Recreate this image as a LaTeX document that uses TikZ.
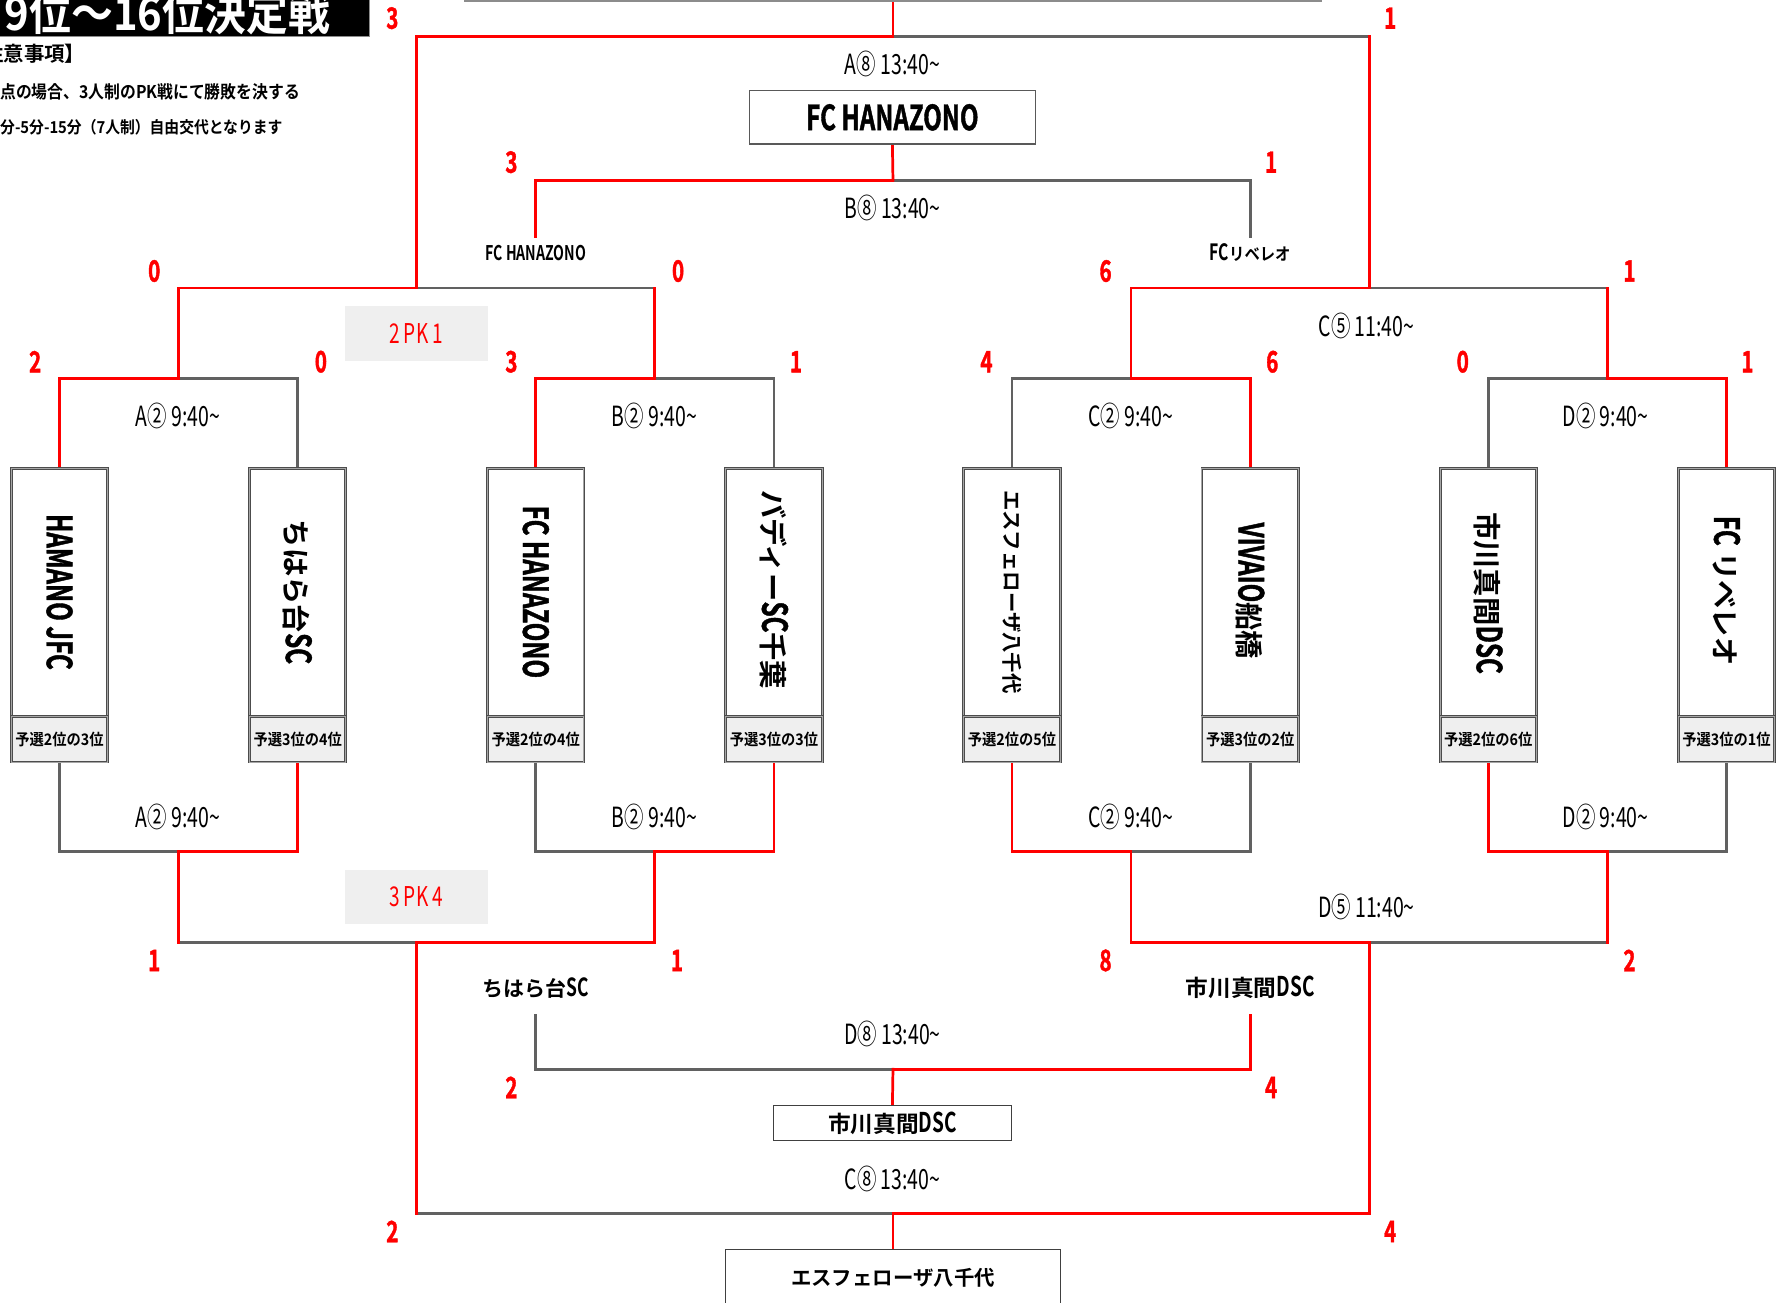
\documentclass[tikz,border=0pt]{standalone}
\usepackage{fontspec}
\usetikzlibrary{backgrounds}
\newfontfamily\jp{Noto Sans CJK JP}[BoldFont={Noto Sans CJK JP Bold}]
\newfontfamily\jpc{Noto Sans CJK JP}[BoldFont={Noto Sans CJK JP Bold},FakeStretch=0.9]
\newfontfamily\cn{Noto Sans CJK JP}[BoldFont={Noto Sans CJK JP Bold},FakeStretch=0.7]
\newfontfamily\cnh{Noto Sans CJK JP}[BoldFont={Noto Sans CJK JP Bold},FakeStretch=0.7,FakeBold=1.2]
\definecolor{pkgray}{HTML}{EFEFEF}
\newcommand\lt[1]{{\cnh\bfseries\fontsize{30.5}{30.5}\selectfont #1}}
\newcommand\lts[2]{{\cn\bfseries\fontsize{#1}{#1}\selectfont #2}}
\newcommand\tld{\textasciitilde}
\begin{document}
\begin{tikzpicture}[x=1pt,y=-1pt,
  win/.style={draw=red, line width=2.4pt, line cap=rect},
  lose/.style={draw=black!62, line width=2.4pt, line cap=rect},
  teambox/.style={draw=black!70, line width=0.8pt, double=black!35, double distance=0.9pt, fill=white, minimum width=85pt, minimum height=259pt, inner sep=0pt},
  rankbox/.style={draw=black!70, line width=0.8pt, double=black!35, double distance=0.9pt, fill=pkgray, minimum width=85pt, minimum height=40pt, inner sep=0pt, font=\jpc\bfseries\fontsize{14}{14}\selectfont},
  teamname/.style={rotate=-90, inner sep=0pt, font=\jp\bfseries\fontsize{25}{25}\selectfont},
  mlbl/.style={inner sep=0pt, font=\cn\fontsize{24.5}{24.5}\selectfont},
  score/.style={inner sep=0pt, text=red, font=\cnh\bfseries\fontsize{26}{26}\selectfont},
  pkbox/.style={fill=pkgray, minimum width=126pt, minimum height=48pt, inner sep=0pt, text=red, font=\cn\fontsize{24}{24}\selectfont},
  reslbl/.style={inner xsep=0pt, font=\jp\bfseries\fontsize{19}{19}\selectfont},
  placebox/.style={draw=black!75, line width=1.2pt, fill=white, inner sep=0pt},
  note/.style={inner sep=0pt, anchor=west}
]
\useasboundingbox (0,0) rectangle (1568,1149);

% ---------- title and notes ----------
\path[fill=black, draw=black!45, line width=1pt] (-5,-5) rectangle (326,32);
\node[anchor=base west, inner sep=0pt, text=white, font=\jpc\bfseries\fontsize{41}{41}\selectfont] (title) at (4,27) {9位～16位決定戦};
\node[note, font=\jp\bfseries\fontsize{18}{18}\selectfont] (notehead) at (-33,47) {【注意事項】};
\node[note, font=\jpc\bfseries\fontsize{15.5}{15.5}\selectfont] (note1) at (0,81) {点の場合、3人制のPK戦にて勝敗を決する};
\node[note, font=\jpc\bfseries\fontsize{14.5}{14.5}\selectfont] (note2) at (0,112) {分-5分-15分（7人制）自由交代となります};

% ---------- team boxes ----------
\node[teambox] (t1) at (52.5,542.5) {};
\node[teambox] (t2) at (262.5,542.5) {};
\node[teambox] (t3) at (472.5,542.5) {};
\node[teambox] (t4) at (682.5,542.5) {};
\node[teambox] (t5) at (892.5,542.5) {};
\node[teambox] (t6) at (1102.5,542.5) {};
\node[teambox] (t7) at (1312.5,542.5) {};
\node[teambox] (t8) at (1522.5,542.5) {};
\node[rankbox] (r1) at (52.5,652) {予選2位の3位};
\node[rankbox] (r2) at (262.5,652) {予選3位の4位};
\node[rankbox] (r3) at (472.5,652) {予選2位の4位};
\node[rankbox] (r4) at (682.5,652) {予選3位の3位};
\node[rankbox] (r5) at (892.5,652) {予選2位の5位};
\node[rankbox] (r6) at (1102.5,652) {予選3位の2位};
\node[rankbox] (r7) at (1312.5,652) {予選2位の6位};
\node[rankbox] (r8) at (1522.5,652) {予選3位の1位};
\node[teamname] (n1) at (52.5,522) {\lt{HAMANO JFC}};
\node[teamname] (n2) at (262.5,522) {ちはら台\lt{SC}};
\node[teamname] (n3) at (472.5,522) {\lt{FC HANAZONO}};
\node[teamname] (n4) at (682.5,520) {バディー\lt{SC}千葉};
\node[teamname, font=\jp\bfseries\fontsize{18}{18}\selectfont] (n5) at (892.5,522) {エスフェローザ八千代};
\node[teamname] (n6) at (1102.5,521) {\lt{VIVAIO}船橋};
\node[teamname] (n7) at (1312.5,523) {市川真間\lt{DSC}};
\node[teamname] (n8) at (1522.5,521) {\lt{FC} リベレオ};

% ---------- placement boxes and result labels ----------
\node[draw=black!45, line width=1.5pt, minimum width=755pt, minimum height=50pt] (top9) at (787.5,-24) {};
\node[placebox, draw=black!65, minimum width=252pt, minimum height=47pt] (p11) at (787,103.5) {\lt{FC HANAZONO}};
\node[placebox, minimum width=210pt, minimum height=31pt, font=\jp\bfseries\fontsize{20}{20}\selectfont] (p15) at (787,990.5) {市川真間\lts{24}{DSC}};
\node[placebox, minimum width=295pt, minimum height=50pt, font=\jp\bfseries\fontsize{18}{18}\selectfont] (p13) at (787.5,1127) {エスフェローザ八千代};

\node[reslbl, text height=14pt, text depth=0pt, inner ysep=7pt] (nA) at (472.5,223) {\lts{17.8}{FC HANAZONO}};
\node[reslbl, text height=14pt, text depth=0pt, inner ysep=7pt] (nB) at (1102.5,223) {\lts{19.8}{FC}{\jpc\bfseries\fontsize{15}{15}\selectfont リベレオ}};
\node[reslbl, text height=16pt, text depth=1pt, inner ysep=16pt, font=\jp\bfseries\fontsize{18.5}{18.5}\selectfont] (nC) at (472.5,871) {ちはら台\lts{22}{SC}};
\node[reslbl, text height=16pt, text depth=1pt, inner ysep=16pt, font=\jp\bfseries\fontsize{20}{20}\selectfont] (nD) at (1102.5,871) {市川真間\lts{24}{DSC}};

% ---------- PK boxes ----------
\node[pkbox] (pk1) at (367,294) {2 PK 1};
\node[pkbox] (pk2) at (367,791) {3 PK 4};

% ---------- match labels ----------
\node[mlbl] (mA8) at (787,56) {A⑧ 13:40\tld};
\node[mlbl] (mB8) at (787,183) {B⑧ 13:40\tld};
\node[mlbl] (mC5) at (1205,287) {C⑤ 11:40\tld};
\node[mlbl] (mA2t) at (157,367) {A② 9:40\tld};
\node[mlbl] (mB2t) at (577,367) {B② 9:40\tld};
\node[mlbl] (mC2t) at (997,367) {C② 9:40\tld};
\node[mlbl] (mD2t) at (1416,367) {D② 9:40\tld};
\node[mlbl] (mA2b) at (157,720) {A② 9:40\tld};
\node[mlbl] (mB2b) at (577,720) {B② 9:40\tld};
\node[mlbl] (mC2b) at (997,720) {C② 9:40\tld};
\node[mlbl] (mD2b) at (1416,720) {D② 9:40\tld};
\node[mlbl] (mD5) at (1205,800) {D⑤ 11:40\tld};
\node[mlbl] (mD8) at (787,912) {D⑧ 13:40\tld};
\node[mlbl] (mC8) at (787,1040) {C⑧ 13:40\tld};

% ---------- scores ----------
\node[score] (s1) at (346,16) {3};
\node[score] (s2) at (1226,16) {1};
\node[score] (s3) at (451,143) {3};
\node[score] (s4) at (1121,143) {1};
\node[score] (s5) at (136,239) {0};
\node[score] (s6) at (598,239) {0};
\node[score] (s7) at (975,239) {6};
\node[score] (s8) at (1437,239) {1};
\node[score] (s9) at (31,319) {2};
\node[score] (s10) at (283,319) {0};
\node[score] (s11) at (451,319) {3};
\node[score] (s12) at (702,319) {1};
\node[score] (s13) at (870,319) {4};
\node[score] (s14) at (1122,319) {6};
\node[score] (s15) at (1290,319) {0};
\node[score] (s16) at (1541,319) {1};
\node[score] (s17) at (136,847) {1};
\node[score] (s18) at (597,847) {1};
\node[score] (s19) at (975,847) {8};
\node[score] (s20) at (1437,847) {2};
\node[score] (s21) at (451,959) {2};
\node[score] (s22) at (1121,959) {4};
\node[score] (s23) at (346,1086) {2};
\node[score] (s24) at (1226,1086) {4};

% ---------- junctions ----------
\coordinate (A1t) at (157.5,334);
\coordinate (B1t) at (577.5,334);
\coordinate (C1t) at (997.5,334);
\coordinate (D1t) at (1417.5,334);
\coordinate (A5) at (367.5,254);
\coordinate (C5) at (1207.5,254);
\coordinate (A8) at (787.5,32);
\coordinate (B8) at (787.5,159);
\coordinate (A1b) at (157.5,751);
\coordinate (B1b) at (577.5,751);
\coordinate (C1b) at (997.5,751);
\coordinate (D1b) at (1417.5,751);
\coordinate (B5) at (367.5,831);
\coordinate (D5) at (1207.5,831);
\coordinate (D8) at (787.5,943);
\coordinate (C8) at (787.5,1070);

\begin{scope}[on background layer]
% losing paths (gray)
\draw[lose] (A1t) -| (t2.north);
\draw[lose] (B1t) -| (t4.north);
\draw[lose] (t5.north) |- (C1t);
\draw[lose] (t7.north) |- (D1t);
\draw[lose] (A5) -- (A5 -| B1t);
\draw[lose] (C5) -- (C5 -| D1t);
\draw[lose] (A8) -- (A8 -| C5);
\draw[lose] (B8) -| (nB.north);
\draw[lose] (r1.south) |- (A1b);
\draw[lose] (r3.south) |- (B1b);
\draw[lose] (C1b) -| (r6.south);
\draw[lose] (D1b) -| (r8.south);
\draw[lose] (A1b |- B5) -- (B5);
\draw[lose] (D5) -- (D5 -| D1b);
\draw[lose] (B5 |- C8) -- (C8);
\draw[lose] (nC.south) |- (D8);
% winning paths (red)
\draw[win] (t1.north) |- (A1t);
\draw[win] (t3.north) |- (B1t);
\draw[win] (C1t) -| (t6.north);
\draw[win] (D1t) -| (t8.north);
\draw[win] (A1t) |- (A5);
\draw[win] (B1t) -- (A5 -| B1t);
\draw[win] (C1t) |- (C5);
\draw[win] (D1t) -- (C5 -| D1t);
\draw[win] (A5) |- (A8);
\draw[win] (C5) -- (A8 -| C5);
\draw[win] (A8) -- (top9.south);
\draw[win] (nA.north) |- (B8);
\draw[win] (B8) -- (p11.south);
\draw[win] (A1b) -| (r2.south);
\draw[win] (B1b) -| (r4.south);
\draw[win] (r5.south) |- (C1b);
\draw[win] (r7.south) |- (D1b);
\draw[win] (A1b) -- (A1b |- B5);
\draw[win] (B5) -| (B1b);
\draw[win] (C1b) |- (D5);
\draw[win] (D1b) -- (D5 -| D1b);
\draw[win] (B5) -- (B5 |- C8);
\draw[win] (C8) -| (D5);
\draw[win] (C8) -- (p13.north);
\draw[win] (D8) -| (nD.south);
\draw[win] (D8) -- (p15.north);
\end{scope}
\end{tikzpicture}
\end{document}
